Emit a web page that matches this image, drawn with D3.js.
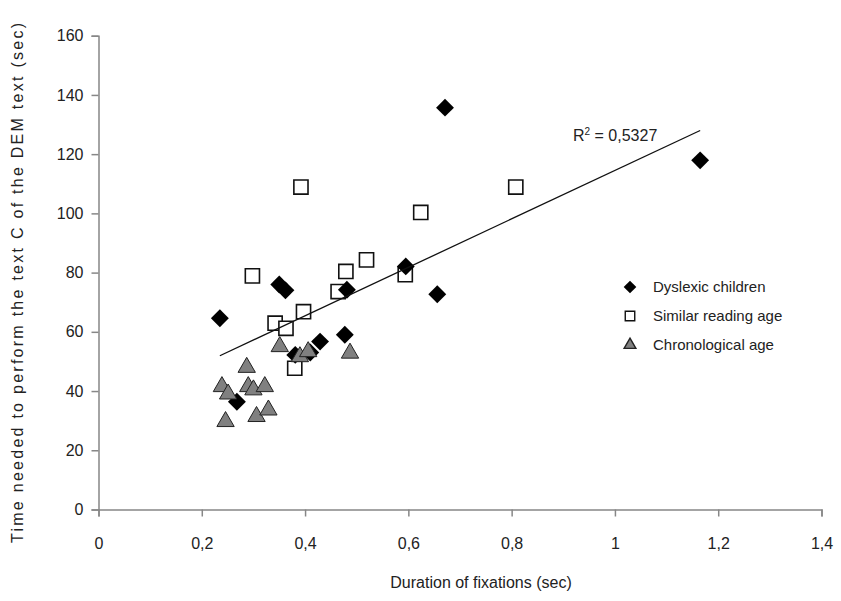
<!DOCTYPE html>
<html>
<head>
<meta charset="utf-8">
<script src="https://cdn.jsdelivr.net/npm/d3@7"></script>
<style>
  body { margin: 0; background: #fff; }
  svg text { font-family: "Liberation Sans", Arial, sans-serif; fill: #222; }
  .axis path, .axis line { stroke: #878787; stroke-width: 1.5; }
</style>
</head>
<body>
<main></main>
<script>
// values: [duration of fixations, time]
const dyslexic = [
  [0.235, 64.6], [0.671, 135.7], [1.165, 117.9], [0.595, 82.1], [0.656, 72.7],
  [0.350, 76.0], [0.362, 74.0], [0.481, 74.2], [0.429, 56.7], [0.477, 59.0],
  [0.381, 52.2], [0.410, 53.0], [0.268, 36.4]
];
const similarAge = [
  [0.392, 108.9], [0.298, 78.9], [0.808, 108.9], [0.624, 100.3], [0.519, 84.3],
  [0.479, 80.4], [0.594, 79.3], [0.464, 73.6], [0.397, 66.8], [0.342, 62.9],
  [0.363, 61.2], [0.380, 47.7]
];
const chronoAge = [
  [0.351, 55.0], [0.390, 51.6], [0.406, 53.3], [0.487, 52.8], [0.287, 48.0],
  [0.239, 41.5], [0.251, 39.0], [0.290, 41.5], [0.300, 40.4], [0.322, 41.5],
  [0.306, 31.4], [0.329, 33.6], [0.246, 29.7]
];
const xTicks = [0, 0.2, 0.4, 0.6, 0.8, 1, 1.2, 1.4];
const yTicks = [0, 20, 40, 60, 80, 100, 120, 140, 160];
const legendNames = ["Dyslexic children", "Similar reading age", "Chronological age"];
// trend line
const trendSlope = 81.8;
const trendIntercept = 32.7;
const rSquared = "0,5327";

var width = 841;
var height = 601;

var svg = d3.select("main")
  .append("svg")
  .attr("width", width)
  .attr("height", height);

const xScale = d3.scaleLinear()
  .domain([0, 1.4])
  .range([98.5, 821.5]);

const yScale = d3.scaleLinear()
  .domain([0, 160])
  .range([509.5, 35.7]);

const comma = d => String(d).replace(".", ",");

var x_axis = d3.axisBottom(xScale)
  .tickValues(xTicks)
  .tickSize(7)
  .tickSizeOuter(7)
  .tickPadding(21)
  .tickFormat(comma);

var y_axis = d3.axisLeft(yScale)
  .tickValues(yTicks)
  .tickSize(7)
  .tickSizeOuter(7)
  .tickPadding(8)
  .tickFormat(comma);

svg.append("g")
  .attr("class", "axis")
  .attr("transform", "translate(0," + yScale(0) + ")")
  .call(x_axis)
  .selectAll("text")
  .style("font-size", "16px");

svg.append("g")
  .attr("class", "axis")
  .attr("transform", "translate(" + xScale(0) + ",0)")
  .call(y_axis)
  .selectAll("text")
  .style("font-size", "16px");

svg.selectAll(".axis text").attr("fill", "#222");

// axis titles
svg.append("text")
  .attr("x", 481)
  .attr("y", 588)
  .attr("text-anchor", "middle")
  .style("font-size", "16px")
  .text("Duration of fixations (sec)");

svg.append("text")
  .attr("transform", "translate(23,283) rotate(-90)")
  .attr("text-anchor", "middle")
  .attr("textLength", 520)
  .attr("lengthAdjust", "spacing")
  .style("font-size", "16px")
  .text("Time needed to perform the text C of the DEM text (sec)");

// markers
const diamondPath = d3.symbol().type(d3.symbolSquare).size(160)();
const squarePath = d3.symbol().type(d3.symbolSquare).size(200)();
const trianglePath = d3.symbol().type(d3.symbolTriangle).size(130)();

svg.selectAll(".sq")
  .data(similarAge)
  .enter()
  .append("path")
  .attr("class", "sq")
  .attr("d", squarePath)
  .attr("transform", d => "translate(" + xScale(d[0]) + "," + yScale(d[1]) + ")")
  .style("fill", "#fff")
  .style("stroke", "#111")
  .style("stroke-width", 1.6);

svg.selectAll(".dia")
  .data(dyslexic)
  .enter()
  .append("path")
  .attr("class", "dia")
  .attr("d", diamondPath)
  .attr("transform", d => "translate(" + xScale(d[0]) + "," + yScale(d[1]) + ") rotate(45)")
  .style("fill", "#000");

svg.selectAll(".tri")
  .data(chronoAge)
  .enter()
  .append("path")
  .attr("class", "tri")
  .attr("d", trianglePath)
  .attr("transform", d => "translate(" + xScale(d[0]) + "," + yScale(d[1]) + ")")
  .style("fill", "#808080")
  .style("stroke", "#222")
  .style("stroke-width", 1);

// trend line over all points
const allX = dyslexic.concat(similarAge, chronoAge).map(d => d[0]);
const trendX = d3.extent(allX);
svg.append("line")
  .attr("x1", xScale(trendX[0]))
  .attr("y1", yScale(trendIntercept + trendSlope * trendX[0]))
  .attr("x2", xScale(trendX[1]))
  .attr("y2", yScale(trendIntercept + trendSlope * trendX[1]))
  .style("stroke", "#111")
  .style("stroke-width", 1.3);

var r2 = svg.append("text")
  .attr("x", 573)
  .attr("y", 141)
  .style("font-size", "16px");
r2.append("tspan").text("R");
r2.append("tspan").attr("dy", -6).style("font-size", "10px").text("2");
r2.append("tspan").attr("dy", 6).text(" = " + rSquared);

// legend
const legend = svg.append("g");
const legendY = [287, 316, 345];
const legendMarks = [
  { d: d3.symbol().type(d3.symbolSquare).size(80)(), rot: 45, fill: "#000", stroke: "none" },
  { d: d3.symbol().type(d3.symbolSquare).size(90)(), rot: 0, fill: "#fff", stroke: "#111" },
  { d: d3.symbol().type(d3.symbolTriangle).size(60)(), rot: 0, fill: "#808080", stroke: "#222" }
];

legendNames.forEach((name, i) => {
  legend.append("path")
    .attr("d", legendMarks[i].d)
    .attr("transform", "translate(630," + legendY[i] + ") rotate(" + legendMarks[i].rot + ")")
    .style("fill", legendMarks[i].fill)
    .style("stroke", legendMarks[i].stroke)
    .style("stroke-width", 1.4);
  legend.append("text")
    .attr("x", 653)
    .attr("y", legendY[i] + 5)
    .style("font-size", "15px")
    .text(name);
});
</script>
</body>
</html>
